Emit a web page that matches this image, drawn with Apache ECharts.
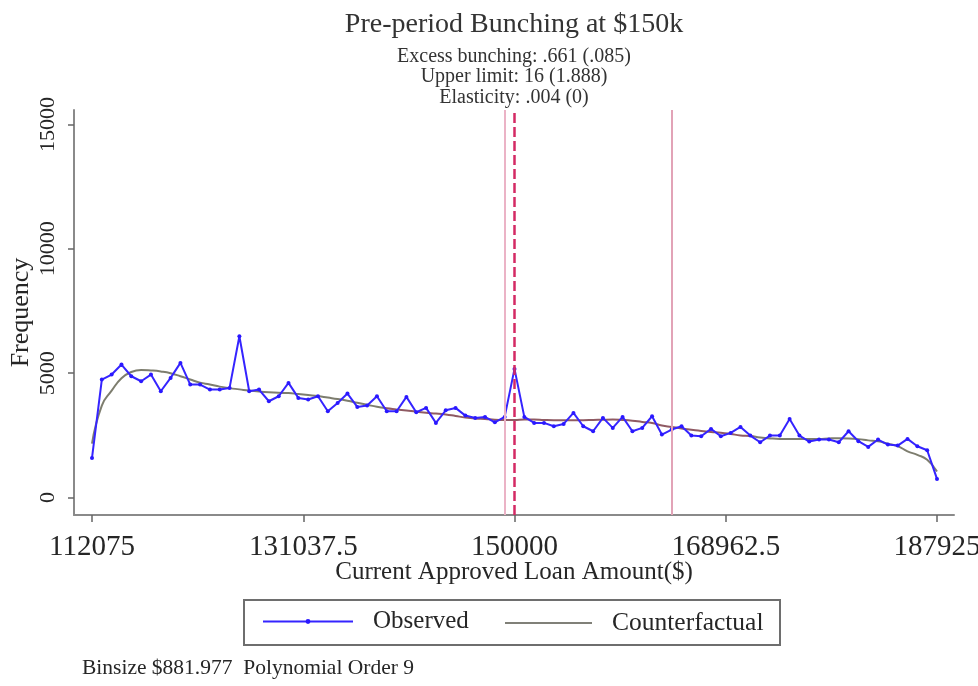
<!DOCTYPE html>
<html>
<head>
<meta charset="utf-8">
<script src="https://cdn.jsdelivr.net/npm/echarts@6/dist/echarts.min.js"></script>
<style>
  html, body { margin: 0; padding: 0; background: #ffffff; }
  #chart { width: 978px; height: 686px; }
</style>
</head>
<body>
<div id="chart"></div>
<script>
// Bins of current approved loan amount ($), width BIN_SIZE, starting at BIN_START
const BIN_START = 112075;
const BIN_SIZE = 881.977;

// Observed frequency per bin
const observed = [
  1595, 4744, 4945, 5347, 4878, 4677, 4945, 4275, 4811, 5414,
  4543, 4543, 4342, 4342, 4409, 6486, 4275, 4342, 3873, 4074,
  4610, 4007, 3940, 4074, 3470, 3806, 4180, 3645, 3698, 4074,
  3470, 3470, 4047, 3430, 3605, 3002, 3510, 3605, 3296, 3203,
  3243, 3028, 3243, 5173, 3243, 3002, 3002, 2868, 2961, 3404,
  2868, 2667, 3203, 2801, 3243, 2667, 2801, 3270, 2533, 2734,
  2868, 2492, 2466, 2760, 2466, 2600, 2841, 2492, 2225, 2492,
  2492, 3162, 2492, 2251, 2332, 2332, 2225, 2667, 2265, 2037,
  2332, 2131, 2091, 2359, 2064, 1903, 752
];

// Counterfactual (polynomial order 9) frequency per bin
const counterfactual = [
  2170, 3700, 4300, 4800, 5050, 5130, 5110, 5070, 5000, 4880,
  4744, 4620, 4550, 4460, 4400, 4350, 4300, 4260, 4230, 4210,
  4200, 4160, 4120, 4080, 4020, 3960, 3890, 3810, 3730, 3650,
  3590, 3545, 3500, 3450, 3410, 3380, 3340, 3280, 3220, 3180,
  3160, 3130, 3120, 3120, 3140, 3140, 3120, 3110, 3110, 3110,
  3110, 3120, 3130, 3136, 3120, 3090, 3040, 3000, 2900, 2840,
  2780, 2730, 2680, 2640, 2610, 2560, 2500, 2480, 2420, 2380,
  2360, 2360, 2360, 2360, 2360, 2380, 2390, 2380, 2350, 2300,
  2260, 2170, 2070, 1860, 1720, 1520, 1050
];

// Axis tick labels
const xTicks = [112075, 131037.5, 150000, 168962.5, 187925];
const yTicks = [0, 5000, 10000, 15000];

// Bunching window: threshold, one bin below it, upper limit 16 bins above
const CUTOFF = 150000;
const LOWER_BOUND = 149118;
const UPPER_LIMIT = 164112;

const FONT = '"Liberation Serif", "Times New Roman", serif';
const TEXT = '#262626';

const binCenter = k => BIN_START + k * BIN_SIZE;
const observedData = observed.map((v, k) => [binCenter(k), v]);
const counterfactualData = counterfactual.map((v, k) => [binCenter(k), v]);

const chart = echarts.init(document.getElementById('chart'), null, { renderer: 'canvas' });

const titleStyle = size => ({ fontFamily: FONT, fontSize: size, fontWeight: 'normal', color: '#333' });

chart.setOption({
  animation: false,
  backgroundColor: '#ffffff',
  textStyle: { fontFamily: FONT, color: TEXT },
  title: [
    { text: 'Pre-period Bunching at $150k', left: 514, top: 11, padding: 0, textAlign: 'center', textStyle: titleStyle(28) },
    { text: 'Excess bunching: .661 (.085)', left: 514, top: 47, padding: 0, textAlign: 'center', textStyle: titleStyle(20) },
    { text: 'Upper limit: 16 (1.888)', left: 514, top: 67, padding: 0, textAlign: 'center', textStyle: titleStyle(20) },
    { text: 'Elasticity: .004 (0)', left: 514, top: 88, padding: 0, textAlign: 'center', textStyle: titleStyle(20) },
    { text: 'Binsize $881.977  Polynomial Order 9', left: 82, top: 657, padding: 0,
      textStyle: { fontFamily: FONT, fontSize: 21.5, fontWeight: 'normal', color: TEXT } }
  ],
  grid: { left: 74, right: 24, top: 110, bottom: 171, containLabel: false, outerBoundsMode: 'none' },
  xAxis: {
    type: 'value',
    min: 110459,
    max: 189451,
    name: 'Current Approved Loan Amount($)',
    nameLocation: 'middle',
    nameGap: 45,
    nameMoveOverlap: false,
    nameTextStyle: { fontFamily: FONT, fontSize: 25, color: TEXT },
    axisLine: { show: true, onZero: false, lineStyle: { color: '#8a8a8a', width: 2 } },
    axisTick: { show: true, length: 7, customValues: xTicks, lineStyle: { color: '#666', width: 1.5 } },
    axisLabel: { customValues: xTicks, margin: 18, fontFamily: FONT, fontSize: 29, color: TEXT,
      hideOverlap: false, formatter: v => String(v) },
    splitLine: { show: false }
  },
  yAxis: {
    type: 'value',
    min: -700,
    max: 15580,
    name: 'Frequency',
    nameLocation: 'middle',
    nameRotate: 90,
    nameGap: 40,
    nameMoveOverlap: false,
    nameTextStyle: { fontFamily: FONT, fontSize: 26, color: TEXT },
    axisLine: { show: true, onZero: false, lineStyle: { color: '#8a8a8a', width: 2 } },
    axisTick: { show: true, length: 6, customValues: yTicks, lineStyle: { color: '#666', width: 1.5 } },
    axisLabel: { customValues: yTicks, rotate: 90, margin: 15, fontFamily: FONT, fontSize: 22, color: TEXT,
      formatter: v => String(v) },
    splitLine: { show: false }
  },
  visualMap: {
    type: 'piecewise',
    show: false,
    seriesIndex: 1,
    dimension: 0,
    pieces: [
      { lt: 138300, color: '#7d7d6e' },
      { gte: 138300, lt: 171500, color: '#8f5a63' },
      { gte: 171500, color: '#7d7d6e' }
    ]
  },
  legend: [
    {
      data: [{ name: 'Observed' }],
      left: 262, top: 609,
      itemWidth: 90, itemHeight: 6,
      padding: 0,
      textStyle: { fontFamily: FONT, fontSize: 25, color: TEXT, padding: [0, 0, 0, 15] }
    },
    {
      data: [{ name: 'Counterfactual', icon: 'rect', itemStyle: { color: '#808078' } }],
      left: 505, top: 610,
      itemWidth: 87, itemHeight: 2,
      padding: 0,
      textStyle: { fontFamily: FONT, fontSize: 25.5, color: TEXT, padding: [0, 0, 0, 15] }
    }
  ],
  graphic: [
    { type: 'rect', silent: true, z: -1,
      shape: { x: 244, y: 600, width: 536, height: 45 },
      style: { fill: '#ffffff', stroke: '#6e6e6e', lineWidth: 2 } }
  ],
  series: [
    {
      name: 'Observed',
      type: 'line',
      data: observedData,
      symbol: 'circle',
      symbolSize: 4,
      showAllSymbol: true,
      itemStyle: { color: '#2a18ff' },
      lineStyle: { color: '#3524ff', width: 2 },
      z: 3,
      markLine: {
        silent: true,
        symbol: 'none',
        label: { show: false },
        data: [
          { xAxis: LOWER_BOUND, lineStyle: { color: '#ebb3c6', width: 2, type: 'solid' } },
          { xAxis: CUTOFF, lineStyle: { color: '#d42a64', width: 2.5, type: [10, 4] } },
          { xAxis: UPPER_LIMIT, lineStyle: { color: '#e2a3b7', width: 2, type: 'solid' } }
        ]
      }
    },
    {
      name: 'Counterfactual',
      type: 'line',
      data: counterfactualData,
      symbol: 'none',
      smooth: true,
      lineStyle: { width: 2 },
      z: 2
    }
  ]
});
</script>
</body>
</html>
